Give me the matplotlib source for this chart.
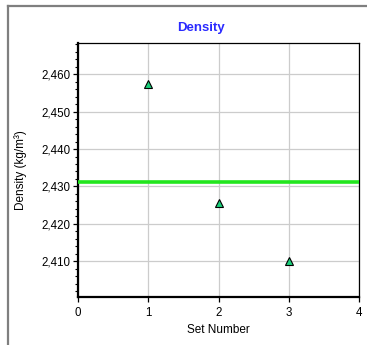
import matplotlib
matplotlib.use("Agg")

import matplotlib.pyplot as plt
from matplotlib.lines import Line2D
from matplotlib.ticker import FuncFormatter, MultipleLocator

# -----------------------------
# Data
# -----------------------------
set_numbers = [1, 2, 3]
densities = [2457.3, 2425.6, 2410.1]
mean_density = 2431.2

plt.rcParams["font.family"] = ["Liberation Sans", "DejaVu Sans"]

fig = plt.figure(figsize=(3.67, 3.45), dpi=100)
ax = fig.add_axes([78 / 367, 48 / 345, 281 / 367, 254 / 345])

# outer panel border (left + top)
fig.add_artist(Line2D([8 / 367, 8 / 367], [0, 1 - 6 / 345], transform=fig.transFigure,
                      color="#7f7f7f", linewidth=1.6))
fig.add_artist(Line2D([8 / 367, 1], [1 - 6 / 345, 1 - 6 / 345], transform=fig.transFigure,
                      color="#7f7f7f", linewidth=1.6))

ax.axhline(mean_density, color="#22e61e", linewidth=2.6, zorder=3)
ax.plot(set_numbers, densities, linestyle="none", marker="^", markersize=6,
        markerfacecolor="#19d07a", markeredgecolor="black", markeredgewidth=0.8, zorder=4)

ax.set_xlim(0, 4)
ax.set_ylim(2400.4, 2468.4)
ax.xaxis.set_major_locator(MultipleLocator(1))
ax.yaxis.set_major_locator(MultipleLocator(10))
ax.yaxis.set_minor_locator(MultipleLocator(2))
ax.yaxis.set_major_formatter(FuncFormatter(lambda v, p: f"{v:,.0f}"))

ax.grid(True, which="major", color="#cccccc", linewidth=0.9)
ax.set_axisbelow(True)

for side in ["left", "bottom"]:
    ax.spines[side].set_linewidth(1.6)
for side in ["top", "right"]:
    ax.spines[side].set_linewidth(0.9)

ax.tick_params(axis="both", which="major", labelsize=8.3, length=3.5, width=0.9, pad=2)
ax.tick_params(axis="y", which="minor", length=2, width=0.8)
ax.tick_params(axis="x", which="major", pad=4)

fig.text(201 / 367, 1 - 28 / 345, "Density", color="#2a2aff", fontsize=9.5,
         fontweight="bold", ha="center", va="center")
ax.set_xlabel("Set Number", fontsize=8.5, labelpad=3)
ax.set_ylabel("Density (kg/m³)", fontsize=8.5, labelpad=10)

fig.savefig("out.png", dpi=100)
